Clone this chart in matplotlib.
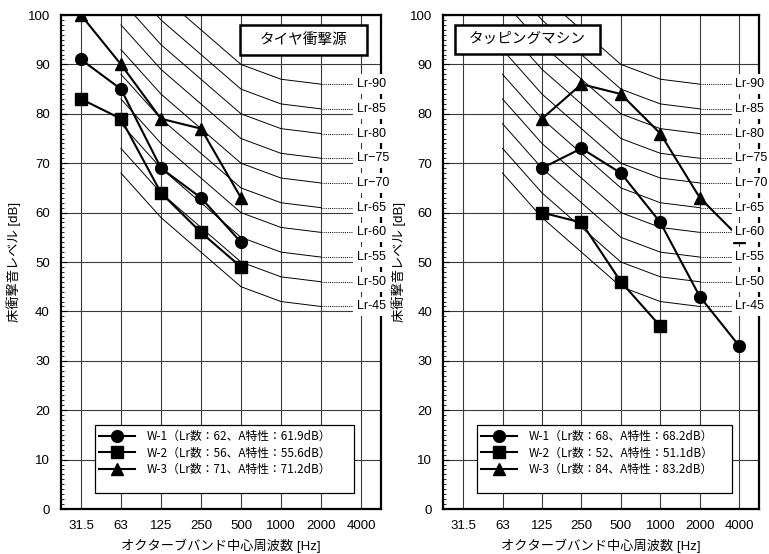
import numpy as np
import matplotlib.pyplot as plt
from matplotlib.patches import Rectangle

plt.rcParams['font.family'] = ['Liberation Sans', 'Noto Sans CJK JP', 'DejaVu Sans']

# octave band centre frequencies (category axis)
bands = ['31.5', '63', '125', '250', '500', '1000', '2000', '4000']

# Lr reference curves, 63 Hz .. 2000 Hz
lr_bands = ['63', '125', '250', '500', '1000', '2000']
lr_names = ['Lr-90', 'Lr-85', 'Lr-80', 'Lr\u221275', 'Lr\u221270',
            'Lr-65', 'Lr-60', 'Lr-55', 'Lr-50', 'Lr-45']
lr_curves = [
    [113, 104, 97, 90, 87, 86],
    [108, 99, 92, 85, 82, 81],
    [103, 94, 87, 80, 77, 76],
    [98, 89, 82, 75, 72, 71],
    [93, 84, 77, 70, 67, 66],
    [88, 79, 72, 65, 62, 61],
    [83, 74, 67, 60, 57, 56],
    [78, 69, 62, 55, 52, 51],
    [73, 64, 57, 50, 47, 46],
    [68, 59, 52, 45, 42, 41],
]

# tyre impact source (heavy)
tire_bands = ['31.5', '63', '125', '250', '500']
tire_w1 = [91, 85, 69, 63, 54]
tire_w2 = [83, 79, 64, 56, 49]
tire_w3 = [100, 90, 79, 77, 63]
tire_labels = ['W-1（Lr数：62、A特性：61.9dB）',
               'W-2（Lr数：56、A特性：55.6dB）',
               'W-3（Lr数：71、A特性：71.2dB）']

# tapping machine (light)
tap_w1_bands = ['125', '250', '500', '1000', '2000', '4000']
tap_w1 = [69, 73, 68, 58, 43, 33]
tap_w2_bands = ['125', '250', '500', '1000']
tap_w2 = [60, 58, 46, 37]
tap_w3_bands = ['125', '250', '500', '1000', '2000', '4000']
tap_w3 = [79, 86, 84, 76, 63, 55]
tap_labels = ['W-1（Lr数：68、A特性：68.2dB）',
              'W-2（Lr数：52、A特性：51.1dB）',
              'W-3（Lr数：84、A特性：83.2dB）']


def pos(labels):
    return [bands.index(b) for b in labels]


def setup_axes(ax, title, title_box, ylab_x):
    ax.set_xlim(-0.5, 7.5)
    ax.set_ylim(0, 100)
    ax.set_xticks(range(len(bands)))
    ax.set_xticklabels(bands)
    ax.set_yticks(range(0, 101, 10))
    ax.set_yticks(range(0, 101, 1), minor=True)
    ax.tick_params(axis='x', length=0, pad=8, labelsize=9.5)
    ax.tick_params(axis='y', which='major', direction='in', length=4, width=0.8, pad=8, labelsize=9.5)
    ax.tick_params(axis='y', which='minor', direction='in', length=2.5, width=0.6)
    ax.grid(True, which='major', color='#3a3a3a', linewidth=0.8, zorder=0)
    ax.set_axisbelow(True)
    for s in ax.spines.values():
        s.set_linewidth(1.6)
        s.set_zorder(2.5)

    # Lr curves with dotted leaders and labels
    xs = pos(lr_bands)
    for name, vals in zip(lr_names, lr_curves):
        ax.plot(xs, vals, color='black', linewidth=0.7, zorder=2)
        ax.plot([xs[-1], 6.85], [vals[-1], vals[-1]], color='black',
                linewidth=0.7, linestyle=(0, (1, 1.2)), zorder=2)
        ax.text(6.9, vals[-1], name, fontsize=9, va='center', ha='left',
                zorder=8, clip_on=False,
                bbox=dict(boxstyle='square,pad=0.3', fc='white', ec='none'))

    x0, y0, x1, y1 = title_box
    ax.add_patch(Rectangle((x0, y0), x1 - x0, y1 - y0, transform=ax.transAxes,
                           fc='white', ec='black', lw=1.8, zorder=6))
    ax.text((x0 + x1) / 2, (y0 + y1) / 2, title, transform=ax.transAxes,
            ha='center', va='center', fontsize=10.5, zorder=7)

    ax.set_xlabel('オクターブバンド中心周波数 [Hz]', fontsize=9.5)
    ax.xaxis.set_label_coords(0.5, -0.06)
    ax.set_ylabel('床衝撃音レベル [dB]', fontsize=9.5)
    ax.yaxis.set_label_coords(ylab_x, 0.5)


def add_legend(ax, handles, labels):
    ax.add_patch(Rectangle((0.106, 0.033), 0.81, 0.137, transform=ax.transAxes,
                           fc='white', ec='black', lw=0.9, zorder=6))
    leg = ax.legend(handles, labels, loc='upper left', bbox_to_anchor=(0.12, 0.16),
                    frameon=False, handlelength=3.0, handletextpad=1.0,
                    labelspacing=0.3, borderaxespad=0, borderpad=0,
                    prop={'family': ['Noto Sans CJK JP'], 'size': 8.5})
    leg.set_zorder(7)


fig = plt.figure(figsize=(7.69, 5.54), dpi=100)
ax1 = fig.add_axes([0.0793, 0.0812, 0.4161, 0.8917])
ax2 = fig.add_axes([0.5765, 0.0812, 0.4105, 0.8917])

style = dict(color='black', linewidth=1.5, zorder=4)

setup_axes(ax1, 'タイヤ衝撃源', (0.559, 0.920, 0.955, 0.980), -0.125)
h1, = ax1.plot(pos(tire_bands), tire_w1, marker='o', markersize=8.5, **style)
h2, = ax1.plot(pos(tire_bands), tire_w2, marker='s', markersize=8, **style)
h3, = ax1.plot(pos(tire_bands), tire_w3, marker='^', markersize=9, **style)
add_legend(ax1, [h1, h2, h3], tire_labels)

setup_axes(ax2, 'タッピングマシン', (0.037, 0.922, 0.496, 0.980), -0.118)
g1, = ax2.plot(pos(tap_w1_bands), tap_w1, marker='o', markersize=8.5, **style)
g2, = ax2.plot(pos(tap_w2_bands), tap_w2, marker='s', markersize=8, **style)
g3, = ax2.plot(pos(tap_w3_bands), tap_w3, marker='^', markersize=9, **style)
add_legend(ax2, [g1, g2, g3], tap_labels)

fig.savefig('out.png', dpi=100)
